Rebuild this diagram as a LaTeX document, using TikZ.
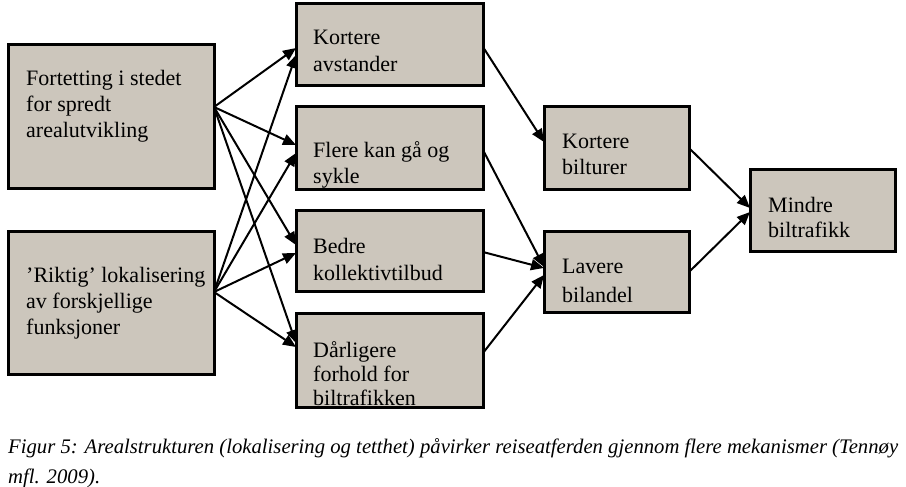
\documentclass[tikz,border=0pt]{standalone}
\usepackage{fontspec}
\setmainfont{Liberation Serif}
\usetikzlibrary{arrows.meta,calc}
\definecolor{boxfill}{RGB}{204,198,188}
\tikzset{
  box/.style={draw=black, fill=boxfill, line width=3pt, inner sep=0pt, outer sep=0pt},
  txt/.style={inner sep=0pt, anchor=base west, align=left, font=\fontsize{22}{26}\selectfont},
  conn/.style={line width=2pt, -{Triangle[length=13pt,width=11pt]}},
}
\begin{document}
\begin{tikzpicture}[x=1pt,y=-1pt]
\useasboundingbox (0,0) rectangle (906,487);
% boxes
\node[box, minimum width=206pt, minimum height=143pt] (a1) at (111,116.5) {};
\node[box, minimum width=206pt, minimum height=143pt] (a2) at (111,302.5) {};
\node[box, minimum width=187pt, minimum height=82pt] (b1) at (389.5,45) {};
\node[box, minimum width=187pt, minimum height=82pt] (b2) at (389.5,148) {};
\node[box, minimum width=187pt, minimum height=81pt] (b3) at (389.5,250.5) {};
\node[box, minimum width=187pt, minimum height=94pt] (b4) at (389.5,360) {};
\node[box, minimum width=145pt, minimum height=82pt] (c1) at (616.5,148) {};
\node[box, minimum width=145pt, minimum height=81pt] (c2) at (616.5,271.5) {};
\node[box, minimum width=145pt, minimum height=82pt] (d) at (822.5,210) {};
% texts (anchored at the baseline of the last line)
\node[txt] (a1t) at (26,138) {Fortetting i stedet\\for spredt\\arealutvikling};
\node[txt] (a2t) at (26,334) {’Riktig’ lokalisering\\av forskjellige\\funksjoner};
\node[txt] (b1t) at (313,72) {Kortere\\[1pt]avstander};
\node[txt] (b2t) at (313,183) {Flere kan gå og\\sykle};
\node[txt] (b3t) at (313,280) {Bedre\\[1pt]kollektivtilbud};
\node[txt] (b4t) at (313,405) {Dårligere\\[-2pt]forhold for\\[-2pt]biltrafikken};
\node[txt] (c1t) at (562,175) {Kortere\\[1pt]bilturer};
\node[txt] (c2t) at (562,302) {Lavere\\[3pt]bilandel};
\node[txt] (dt) at (768,237) {Mindre\\[-1pt]biltrafikk};
% caption
\node[inner sep=0pt, anchor=base west, align=left, font=\fontsize{20.7}{30}\selectfont\itshape] (cap) at (8,483)
  {Figur 5: Arealstrukturen (lokalisering og tetthet) påvirker reiseatferden gjennom flere mekanismer (Tennøy\\mfl. 2009).};
% connectors stage 1
\draw[conn] ($(a1.east)+(0,-9.5)$) -- ($(b1.west)+(0,3)$);
\draw[conn] ($(a2.east)+(0,-10.5)$) -- ($(b1.west)+(0,10)$);
\draw[conn] ($(a1.east)+(0,-9.5)$) -- ($(b2.west)+(0,-3)$);
\draw[conn] ($(a2.east)+(0,-10.5)$) -- ($(b2.west)+(0,5)$);
\draw[conn] ($(a1.east)+(0,-9.5)$) -- ($(b3.west)+(0,-5.5)$);
\draw[conn] ($(a2.east)+(0,-10.5)$) -- ($(b3.west)+(0,2.5)$);
\draw[conn] ($(a1.east)+(0,-9.5)$) -- ($(b4.west)+(0,-17)$);
\draw[conn] ($(a2.east)+(0,-10.5)$) -- ($(b4.west)+(0,-13)$);
% stage 2
\draw[conn] ($(b1.east)+(0,2)$) -- ($(c1.west)+(0,-6)$);
\draw[conn] ($(b2.east)+(0,2)$) -- ($(c2.west)+(0,-4.5)$);
\draw[conn] ($(b3.east)+(0,1.5)$) -- ($(c2.west)+(0,-3.5)$);
\draw[conn] ($(b4.east)+(0,-7)$) -- ($(c2.west)+(0,3.5)$);
% stage 3
\draw[conn] ($(c1.east)+(0,0)$) -- ($(d.west)+(0,-2)$);
\draw[conn] ($(c2.east)+(0,0.5)$) -- ($(d.west)+(0,2)$);
\end{tikzpicture}
\end{document}
